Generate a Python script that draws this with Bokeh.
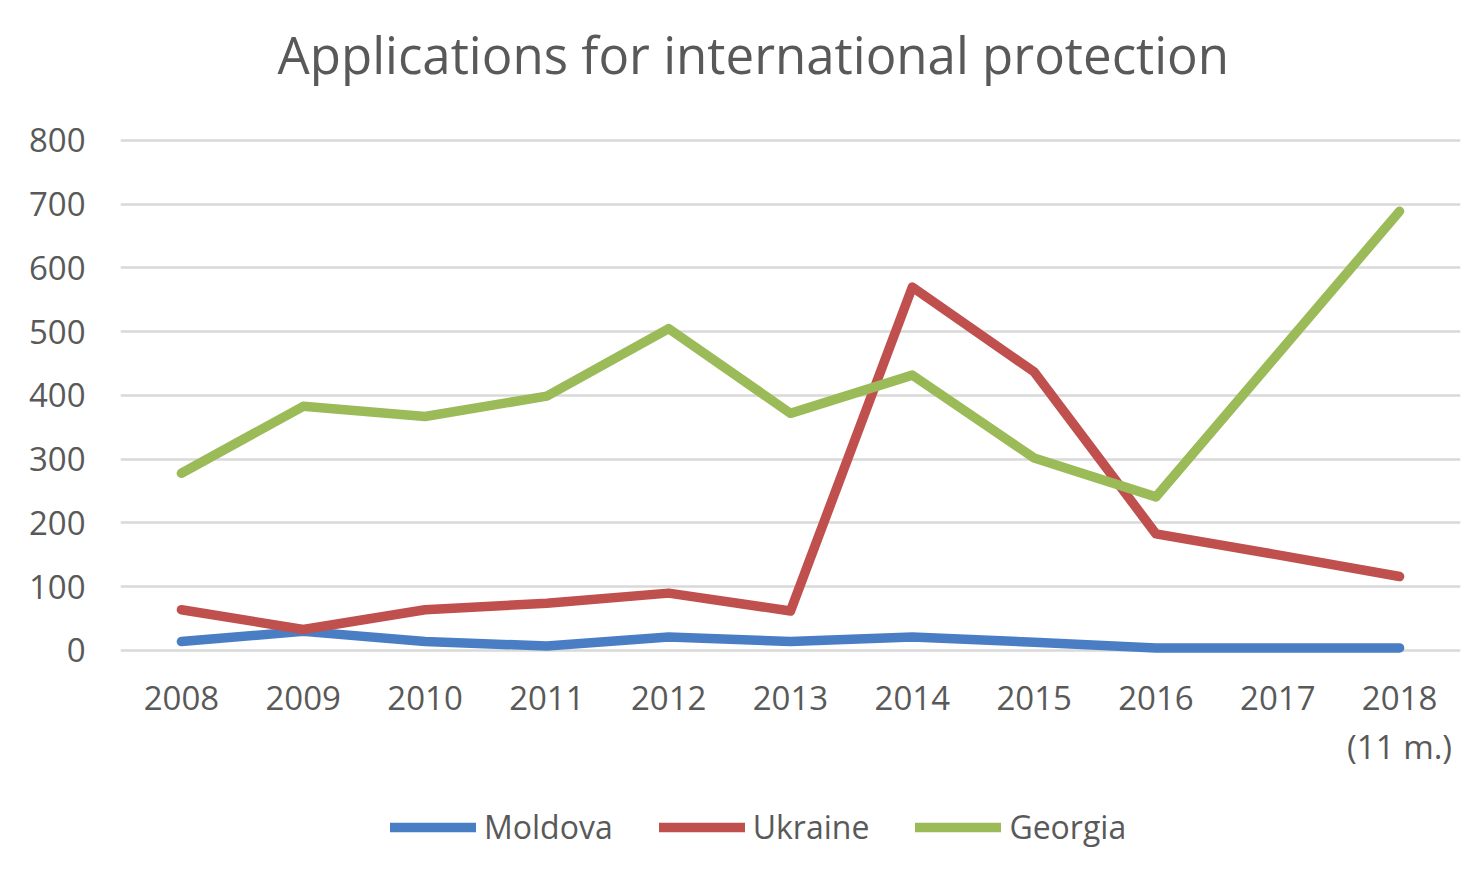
from bokeh.plotting import figure
from bokeh.models import FactorRange, Range1d, Legend, LegendItem, FixedTicker, Label
from bokeh.embed import file_html
from bokeh.resources import INLINE

years = ["2008", "2009", "2010", "2011", "2012", "2013", "2014", "2015", "2016", "2017", "2018\n(11 m.)"]
moldova = [14, 30, 14, 7, 21, 14, 21, 13, 4, 4, 4]
ukraine = [64, 33, 64, 74, 90, 62, 570, 437, 183, 150, 116]
georgia = [278, 383, 367, 399, 505, 372, 432, 302, 241, 465, 689]
y_ticks = [0, 100, 200, 300, 400, 500, 600, 700, 800]
title_text = "Applications for international protection"

FONT = "Open Sans"
GREY = "#595959"

p = figure(x_range=FactorRange(*years), y_range=Range1d(-335.7, 1019.6),
           frame_width=1340, frame_height=864, output_backend="svg", toolbar_location=None,
           min_border_left=120, min_border_right=2, min_border_top=0, min_border_bottom=0)
p.outline_line_color = None
p.background_fill_color = "white"
p.border_fill_color = "white"

p.xgrid.grid_line_color = None
p.ygrid.grid_line_color = "#d9d9d9"
p.ygrid.grid_line_width = 2.5
p.yaxis.ticker = FixedTicker(ticks=y_ticks)

for ax in (p.xaxis[0], p.yaxis[0]):
    ax.axis_line_color = None
    ax.major_tick_line_color = None
    ax.minor_tick_line_color = None
    ax.major_label_text_font = FONT
    ax.major_label_text_font_size = "33px"
    ax.major_label_text_color = GREY
p.yaxis.major_label_standoff = 29
p.xaxis.major_label_standoff = 6
p.xaxis.major_label_text_line_height = 1.07
p.xaxis.fixed_location = -20.4

r1 = p.line(years, moldova, line_color="#4A7EC4", line_width=9.5, line_cap="round", line_join="round")
r2 = p.line(years, ukraine, line_color="#C0504D", line_width=9.5, line_cap="round", line_join="round")
r3 = p.line(years, georgia, line_color="#9BBB59", line_width=9.5, line_cap="round", line_join="round")

p.add_layout(Label(x=1.289, y=936, text=title_text, text_align="left", text_baseline="alphabetic",
                   text_font=FONT, text_font_size="51px", text_color=GREY))

legend = Legend(items=[LegendItem(label="Moldova", renderers=[r1]),
                       LegendItem(label="Ukraine", renderers=[r2]),
                       LegendItem(label="Georgia", renderers=[r3])],
                orientation="horizontal", location=(270, 16),
                glyph_width=86, glyph_height=36, label_height=36, label_standoff=8,
                spacing=46, padding=0, margin=0,
                label_text_font=FONT, label_text_font_size="32px", label_text_color=GREY,
                border_line_color=None, background_fill_alpha=0)
p.add_layout(legend)

open("out.html", "w").write(file_html(p, INLINE))
